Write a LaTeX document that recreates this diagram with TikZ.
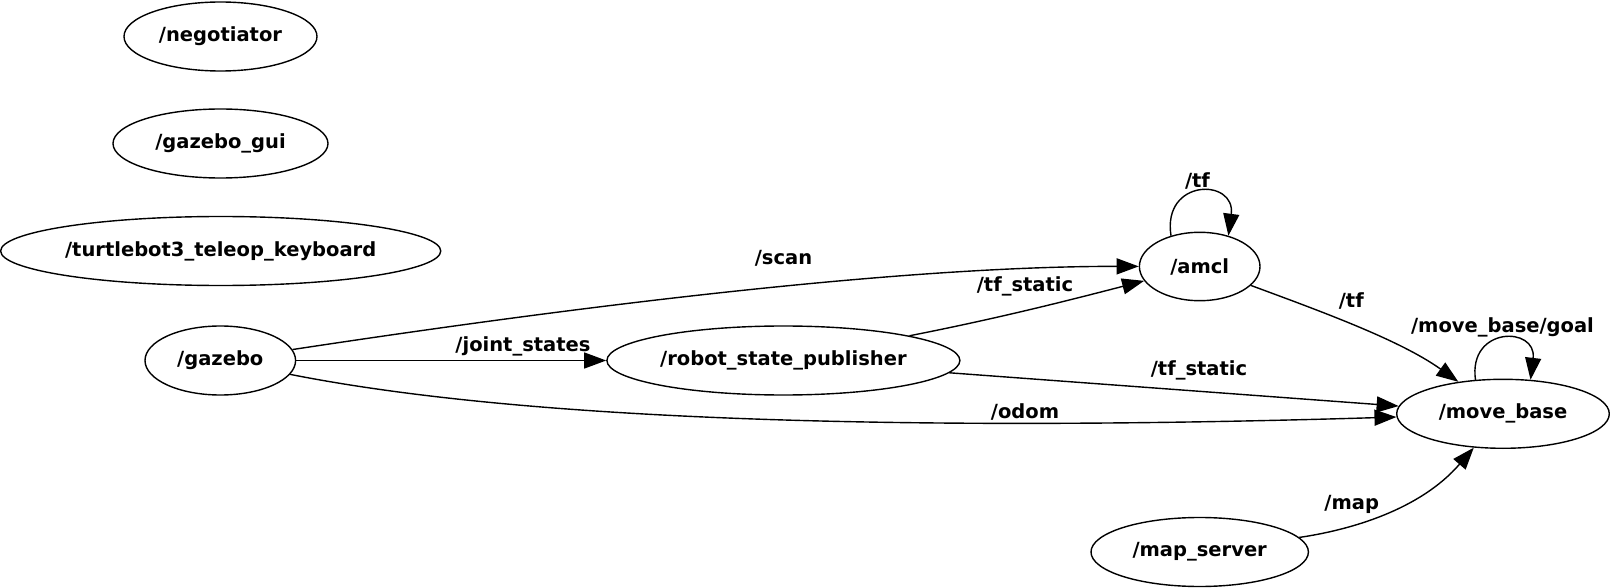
\documentclass[tikz,border=0pt]{standalone}
\usepackage{fontspec}
\setmainfont{DejaVu Sans}
\usetikzlibrary{shapes.geometric,arrows.meta}
\begin{document}
\begin{tikzpicture}[x=1pt,y=-1pt,
  every node/.style={font=\bfseries\fontsize{19.5}{22}\selectfont},
  nd/.style={draw, ellipse, line width=1.4pt, inner sep=0pt, minimum height=69pt},
  edge/.style={line width=1.4pt, -{Triangle[length=22pt,width=16pt]}},
  lbl/.style={inner sep=0pt}]
\useasboundingbox (0,0) rectangle (1610,588);
% nodes
\node[nd, minimum width=193pt] (neg) at (220.5,36.5) {/negotiator};
\node[nd, minimum width=215pt] (gui) at (220.5,143.5) {/gazebo\_gui};
\node[nd, minimum width=439pt] (teleop) at (220.7,251) {/turtlebot3\_teleop\_keyboard};
\node[nd, minimum width=150.6pt] (gazebo) at (220.3,360.5) {/gazebo};
\node[nd, minimum width=353pt] (rsp) at (783.4,360.5) {/robot\_state\_publisher};
\node[nd, minimum width=120.6pt, minimum height=68.4pt] (amcl) at (1199.7,266.5) {/amcl};
\node[nd, minimum width=212.6pt] (mb) at (1503,413.8) {/move\_base};
\node[nd, minimum width=217.4pt] (ms) at (1199.7,552) {/map\_server};
% labels
\node[lbl] (lscan) at (783.5,258) {/scan};
\node[lbl] (ljoint) at (523,346) {/joint\_states};
\node[lbl] (ltfsa) at (1025,286) {/tf\_static};
\node[lbl] (ltfsb) at (1199,370) {/tf\_static};
\node[lbl] (lodom) at (1025,412) {/odom};
\node[lbl] (ltfa) at (1197.5,181) {/tf};
\node[lbl] (ltfb) at (1351.3,301) {/tf};
\node[lbl] (lgoal) at (1502.5,327) {/move\_base/goal};
\node[lbl] (lmap) at (1351.7,504) {/map};
% edges
\draw[edge] (gazebo) .. controls (520,315) and (880,266) .. (amcl);
\draw[edge] (gazebo) -- (rsp);
\draw[edge] (gazebo) .. controls (520,420) and (900,432) .. (mb);
\draw[edge] (rsp) .. controls (1000,318) and (1070,300) .. (amcl);
\draw[edge] (rsp) -- (mb);
\draw[edge] (amcl) .. controls (1320,311) and (1400,340) .. (mb);
\draw[edge] (ms) .. controls (1350,530) and (1420,510) .. (mb);
\draw[edge] (amcl.133) .. controls (1162,178) and (1236,178) .. (amcl.47);
\draw[edge] (mb.129) .. controls (1468,326) and (1537,326) .. (mb.51);
\end{tikzpicture}
\end{document}
